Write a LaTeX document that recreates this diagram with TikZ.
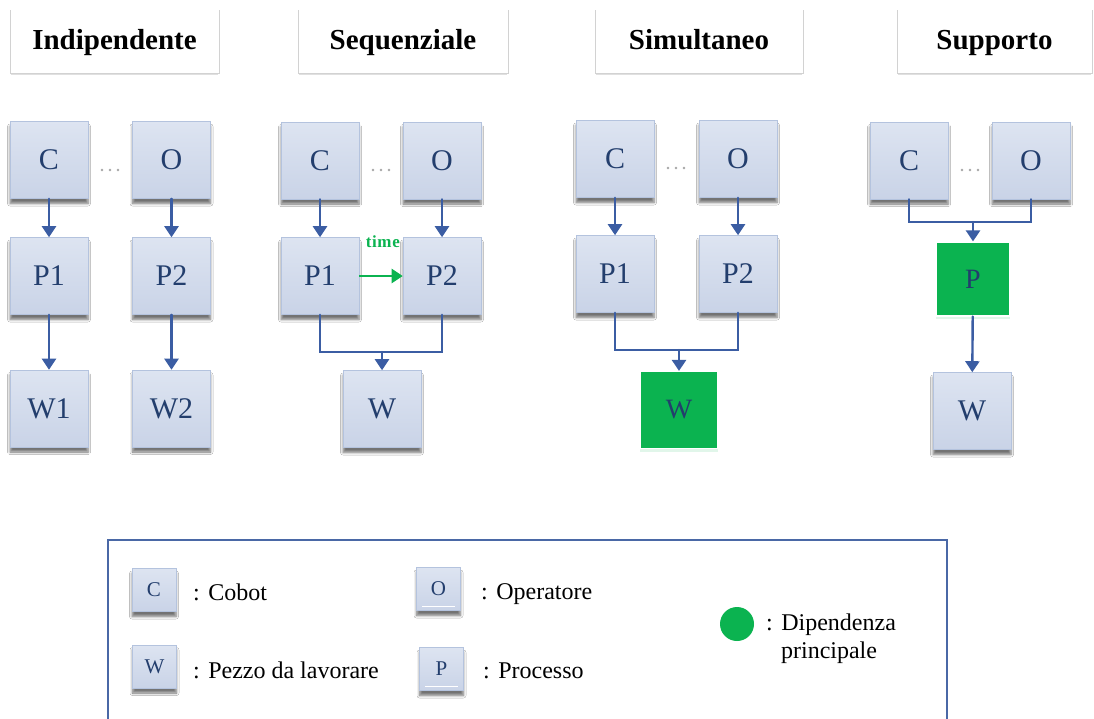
\documentclass[tikz,border=0pt]{standalone}
\usepackage{fontspec}
\setmainfont{LiberationSerif}[Extension=.ttf, UprightFont=*-Regular, BoldFont=*-Bold, ItalicFont=*-Italic, BoldItalicFont=*-BoldItalic]
\usetikzlibrary{arrows.meta,shadows,shadows.blur,calc}
\definecolor{boxtop}{HTML}{DDE4F1}
\definecolor{boxbot}{HTML}{C9D3E7}
\definecolor{boxedge}{HTML}{B4C3DE}
\definecolor{ink}{HTML}{233E6D}
\definecolor{link}{HTML}{3B5DA3}
\definecolor{keygreen}{HTML}{0BB350}
\definecolor{framegray}{HTML}{D2D2D2}
\definecolor{frameblue}{HTML}{4A68A6}
\tikzset{
  blk/.style={draw=boxedge, line width=0.6pt, top color=boxtop, bottom color=boxbot,
    minimum width=78pt, minimum height=77pt, inner sep=0pt, text=ink,
    font=\rmfamily\fontsize{30}{32}\selectfont,
    blur shadow={shadow xshift=0pt, shadow yshift=-5pt, shadow blur radius=2.5pt, shadow blur steps=6, shadow opacity=55}},
  hot/.style={draw=white, line width=1.2pt, fill=keygreen,
    minimum width=78pt, minimum height=77pt, inner sep=0pt, text=ink,
    font=\rmfamily\fontsize{28}{30}\selectfont,
    drop shadow={shadow xshift=0pt, shadow yshift=-3pt, fill=keygreen!20, opacity=0.6}},
  keybox/.style={blk, minimum width=44pt, minimum height=43pt, font=\rmfamily\fontsize{21}{23}\selectfont},
  flow/.style={draw=link, line width=2.4pt, line cap=round},
  tip/.style={flow, -{Triangle[width=14pt,length=11pt]}},
  heading/.style={font=\rmfamily\bfseries\fontsize{29}{31}\selectfont, text=black, anchor=base},
  keytext/.style={font=\rmfamily\fontsize{24}{28}\selectfont, anchor=base west, inner sep=0pt, text=black},
  dot/.style={circle, fill=gray!70, inner sep=0pt, minimum size=2.6pt},
}
\newcommand{\ellipsisdots}[2]{%
  \node[dot] at (#1-8,#2) {};
  \node[dot] at (#1,#2) {};
  \node[dot] at (#1+8,#2) {};}
\newcommand{\headframe}[3]{%
  \draw[framegray, line width=0.8pt] (#1,10) -- (#1,73) -- (#2,73) -- (#2,10);
  \draw[black!12, line width=1pt] (#1+1,74.5) -- (#2-1,74.5);
  \node[heading] at ({(#1+#2)/2},49) {#3};}
\begin{document}
\begin{tikzpicture}[x=1pt,y=-1pt]
\useasboundingbox (0,0) rectangle (1094,718);
\fill[white] (0,0) rectangle (1094,718);

% column headings
\headframe{10}{219}{Indipendente}
\headframe{298}{508}{Sequenziale}
\headframe{595}{803}{Simultaneo}
\headframe{897}{1092}{Supporto}

% --- Indipendente
\node[blk] (iC) at (49,160) {C};
\node[blk] (iO) at (171.5,160) {O};
\node[blk] (iP1) at (49,276) {P1};
\node[blk] (iP2) at (171.5,276) {P2};
\node[blk] (iW1) at (49,408.5) {W1};
\node[blk] (iW2) at (171.5,408.5) {W2};
\ellipsisdots{110}{170}
\draw[tip] (iC) -- (iP1);
\draw[tip] (iO) -- (iP2);
\draw[tip] (iP1) -- (iW1);
\draw[tip] (iP2) -- (iW2);

% --- Sequenziale
\node[blk] (sC) at (320,160.5) {C};
\node[blk] (sO) at (442,160.5) {O};
\node[blk] (sP1) at (320,276) {P1};
\node[blk] (sP2) at (442,276) {P2};
\node[blk] (sW) at (382,409) {W};
\ellipsisdots{381}{170}
\draw[tip] (sC) -- (sP1);
\draw[tip] (sO) -- (sP2);
\coordinate (sJ) at (382,352);
\draw[flow] (sP1.south) |- (sJ) -| (sP2.south);
\draw[tip] (sJ) -- (sW);
\draw[keygreen, line width=2.4pt, -{Triangle[width=14pt,length=11pt]}] (sP1.east) -- (sP2.west);
\node[font=\rmfamily\bfseries\fontsize{17}{18}\selectfont, text=keygreen] (tlabel) at (383,242) {t\kern0.5pt i\kern0.5pt m\kern1pt e};

% --- Simultaneo
\node[blk] (mC) at (615,159) {C};
\node[blk] (mO) at (738,159) {O};
\node[blk] (mP1) at (615,274) {P1};
\node[blk] (mP2) at (738,274) {P2};
\node[hot] (mW) at (679,410) {W};
\ellipsisdots{676}{168}
\draw[tip] (mC) -- (mP1);
\draw[tip] (mO) -- (mP2);
\coordinate (mJ) at (679,350);
\draw[flow] (mP1.south) |- (mJ) -| (mP2.south);
\draw[tip] (mJ) -- (mW);

% --- Supporto
\node[blk] (uC) at (909,160.5) {C};
\node[blk] (uO) at (1031,160.5) {O};
\node[hot, minimum width=74pt, minimum height=74pt] (uP) at (973,279) {P};
\node[blk] (uW) at (972,411) {W};
\ellipsisdots{970}{170}
\coordinate (uJ) at (973,222);
\draw[flow] (uC.south) |- (uJ) -| (uO.south);
\draw[tip] (uJ) -- (uP);
\draw[tip] (uP) -- (uW);

% --- legend
\draw[frameblue, line width=2.6pt] (108,740) -- (108,540) -- (947,540) -- (947,740);
\node[keybox] (kC) at (154,590) {C};
\node[keytext] (tC) at (193,600) {:\hspace{0.35em}Cobot};
\node[keybox] (kO) at (438.5,589) {O};
\draw[white, line width=1pt] ($(kO.south west)+(6,-4)$) -- ($(kO.south east)+(-6,-4)$);
\node[keytext] (tO) at (481,599) {:\hspace{0.35em}Operatore};
\node[keybox] (kW) at (154.5,666.5) {W};
\node[keytext] (tW) at (193,678) {:\hspace{0.35em}Pezzo da lavorare};
\node[keybox] (kP) at (441.5,669) {P};
\draw[white, line width=1pt] ($(kP.south west)+(6,-4)$) -- ($(kP.south east)+(-6,-4)$);
\node[keytext] (tP) at (483,678) {:\hspace{0.35em}Processo};
\node[circle, fill=keygreen, minimum size=34pt, inner sep=0pt] (kG) at (737,624) {};
\node[keytext, align=left] (tG) at (766,658) {:\hspace{0.35em}Dipendenza\\\hspace*{0.62em}principale};
\end{tikzpicture}
\end{document}
